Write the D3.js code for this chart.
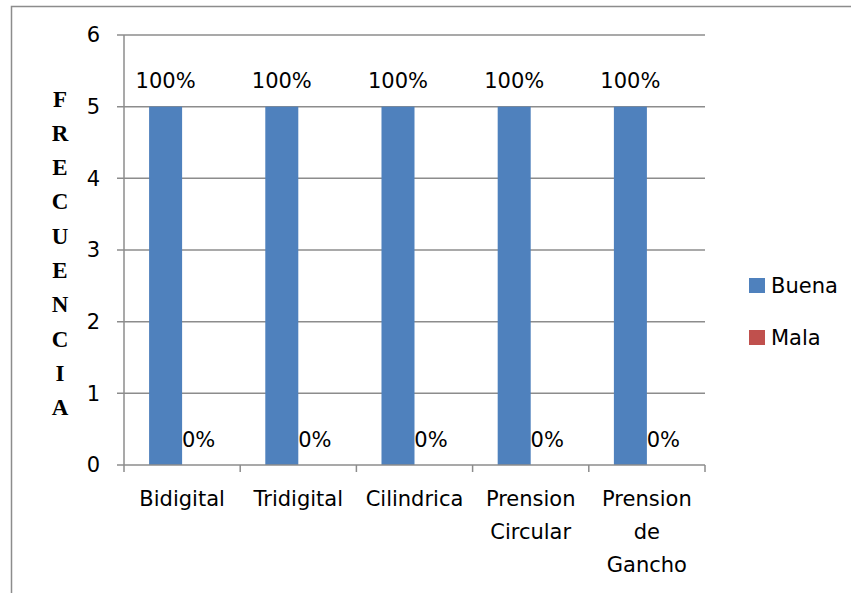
<!DOCTYPE html>
<html>
<head>
<meta charset="utf-8">
<script src="https://cdn.jsdelivr.net/npm/d3@7"></script>
<style>
  html, body { margin: 0; padding: 0; background: #fff; }
  svg { display: block; }
</style>
</head>
<body>
<svg id="chart" width="851" height="593"></svg>
<script>
// Grip types and their evaluation counts
const categories = [["Bidigital"], ["Tridigital"], ["Cilindrica"], ["Prension", "Circular"], ["Prension", "de", "Gancho"]];
const buena = [5, 5, 5, 5, 5];
const mala = [0, 0, 0, 0, 0];
const buenaPct = ["100%", "100%", "100%", "100%", "100%"];
const malaPct = ["0%", "0%", "0%", "0%", "0%"];
const seriesNames = ["Buena", "Mala"];
const seriesColors = ["#4F81BD", "#C0504D"];
const yTicks = [0, 1, 2, 3, 4, 5, 6];
const yTitle = "FRECUENCIA";

const svg = d3.select("#chart");
const font = "'DejaVu Sans', 'Noto Sans', sans-serif";
const fs = 21;
const gridColor = "#8c8c8c";

// Outer chart frame
svg.append("rect").attr("x", 11.5).attr("y", 6.5).attr("width", 900).attr("height", 700)
  .attr("fill", "none").attr("stroke", gridColor).attr("stroke-width", 1.5);

const plot = { left: 124, right: 705, top: 35, bottom: 465 };

const x = d3.scaleBand().domain(d3.range(categories.length))
  .range([plot.left, plot.right]).paddingInner(0).paddingOuter(0);
const y = d3.scaleLinear().domain([0, 6]).range([plot.bottom, plot.top]);
// two series per group, gap on each side of the pair
const inner = d3.scaleBand().domain([0, 1]).range([0, x.bandwidth()]).paddingInner(0).paddingOuter(0.76);

// Horizontal gridlines
svg.append("g").selectAll("line").data(yTicks.filter(d => d > 0)).join("line")
  .attr("x1", plot.left - 7).attr("x2", plot.right)
  .attr("y1", d => y(d)).attr("y2", d => y(d))
  .attr("stroke", gridColor).attr("stroke-width", 1.5);

// Y axis line
svg.append("line").attr("x1", plot.left).attr("x2", plot.left)
  .attr("y1", plot.top).attr("y2", plot.bottom)
  .attr("stroke", gridColor).attr("stroke-width", 1.5);

// Y tick labels
svg.append("g").selectAll("text").data(yTicks).join("text")
  .attr("x", 100).attr("y", d => y(d)).attr("dy", "0.35em")
  .attr("text-anchor", "end").attr("font-family", font).attr("font-size", fs)
  .attr("fill", "#000").text(d => d);

// Bars
const g = svg.append("g");
categories.forEach((c, i) => {
  [buena, mala].forEach((s, j) => {
    const bx = x(i) + inner(j);
    g.append("rect").attr("x", bx).attr("width", inner.bandwidth())
      .attr("y", y(s[i])).attr("height", y(0) - y(s[i]))
      .attr("fill", seriesColors[j]);
  });
  // Value labels
  g.append("text").attr("x", x(i) + inner(0) + inner.bandwidth() / 2).attr("y", y(buena[i]) - 19)
    .attr("text-anchor", "middle").attr("font-family", font).attr("font-size", fs)
    .text(buenaPct[i]);
  g.append("text").attr("x", x(i) + inner(1) + inner.bandwidth() / 2).attr("y", y(mala[i]) - 18)
    .attr("text-anchor", "middle").attr("font-family", font).attr("font-size", fs)
    .text(malaPct[i]);
});

// X axis line and category ticks
svg.append("line").attr("x1", plot.left - 7).attr("x2", plot.right)
  .attr("y1", plot.bottom).attr("y2", plot.bottom)
  .attr("stroke", gridColor).attr("stroke-width", 1.5);
svg.append("g").selectAll("line").data(d3.range(categories.length + 1)).join("line")
  .attr("x1", d => plot.left + d * x.bandwidth()).attr("x2", d => plot.left + d * x.bandwidth())
  .attr("y1", plot.bottom).attr("y2", plot.bottom + 7)
  .attr("stroke", gridColor).attr("stroke-width", 1.5);

// Category labels (multi-line)
categories.forEach((lines, i) => {
  const t = svg.append("text").attr("text-anchor", "middle")
    .attr("font-family", font).attr("font-size", fs);
  lines.forEach((ln, k) => {
    t.append("tspan").attr("x", x(i) + x.bandwidth() / 2).attr("y", 506 + k * 33).text(ln);
  });
});

// Vertical stacked axis title
svg.append("g").selectAll("text").data(yTitle.split("")).join("text")
  .attr("x", 60).attr("y", (d, k) => 106.5 + k * 34.3)
  .attr("text-anchor", "middle").attr("font-family", "'Liberation Serif', 'Times New Roman', serif")
  .attr("font-weight", "bold").attr("font-size", 23).text(d => d);

// Legend
const legend = svg.append("g");
seriesNames.forEach((name, j) => {
  const ly = 278 + j * 52;
  legend.append("rect").attr("x", 749).attr("y", ly).attr("width", 16).attr("height", 15)
    .attr("fill", seriesColors[j]);
  legend.append("text").attr("x", 771).attr("y", ly + 7.5).attr("dy", "0.35em")
    .attr("font-family", font).attr("font-size", fs).text(name);
});
</script>
</body>
</html>
